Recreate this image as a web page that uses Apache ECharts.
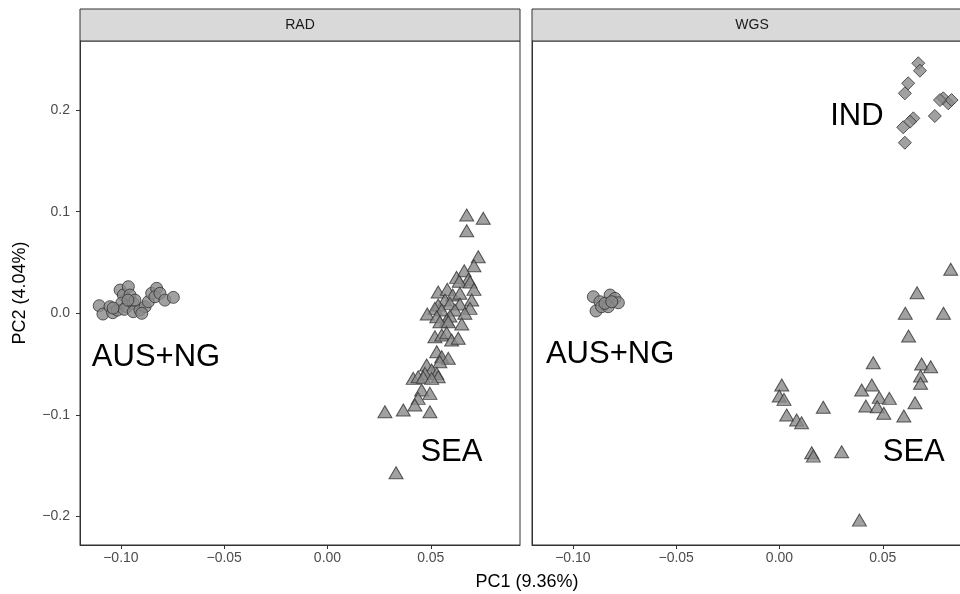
<!DOCTYPE html>
<html>
<head>
<meta charset="utf-8">
<script src="https://cdn.jsdelivr.net/npm/echarts@6/dist/echarts.min.js"></script>
<style>
  html, body { margin: 0; padding: 0; background: #fff; overflow: hidden; }
  /* the WGS panel runs past the right edge of the window, as in the source figure */
  #chart { width: 990px; height: 594px; }
</style>
</head>
<body>
<div id="chart"></div>
<script>
// panels
var panels = ['RAD', 'WGS']

// tick labels
var xTicks = [-0.10, -0.05, 0.00, 0.05]
var yTicks = [-0.2, -0.1, 0.0, 0.1, 0.2]

// RAD: AUS+NG (circles) and SEA (triangles)
var radAusX = [-0.1105, -0.1087, -0.1053, -0.1040, -0.1017, -0.1004, -0.0988, -0.0964, -0.0956, -0.0996, -0.0972, -0.0984, -0.0940, -0.0940, -0.0908, -0.0883, -0.0899, -0.0867, -0.0851, -0.0827, -0.0835, -0.0811, -0.0787, -0.0746, -0.1038, -0.0932, -0.0966]
var radAusY = [0.0075, -0.0007, 0.0065, 0.0006, 0.0032, 0.0229, 0.0180, 0.0262, 0.0180, 0.0101, 0.0065, 0.0039, 0.0098, 0.0016, 0.0032, 0.0065, 0.0000, 0.0114, 0.0197, 0.0246, 0.0163, 0.0197, 0.0130, 0.0157, 0.0052, 0.0130, 0.0130]
var radSeaX = [0.0674, 0.0754, 0.0674, 0.0730, 0.0709, 0.0662, 0.0625, 0.0682, 0.0638, 0.0690, 0.0709, 0.0536, 0.0580, 0.0606, 0.0641, 0.0698, 0.0569, 0.0536, 0.0593, 0.0641, 0.0690, 0.0520, 0.0483, 0.0553, 0.0617, 0.0665, 0.0593, 0.0529, 0.0577, 0.0650, 0.0544, 0.0585, 0.0520, 0.0553, 0.0577, 0.0601, 0.0633, 0.0529, 0.0553, 0.0585, 0.0544, 0.0480, 0.0504, 0.0472, 0.0529, 0.0415, 0.0439, 0.0464, 0.0536, 0.0504, 0.0456, 0.0496, 0.0439, 0.0423, 0.0278, 0.0367, 0.0496, 0.0332]
var radSeaY = [0.0967, 0.0935, 0.0813, 0.0557, 0.0468, 0.0419, 0.0354, 0.0335, 0.0315, 0.0308, 0.0236, 0.0210, 0.0236, 0.0180, 0.0197, 0.0131, 0.0131, 0.0082, 0.0098, 0.0091, 0.0049, 0.0049, -0.0007, 0.0032, 0.0032, 0.0000, -0.0027, -0.0034, -0.0066, -0.0105, -0.0083, -0.0083, -0.0230, -0.0214, -0.0191, -0.0263, -0.0246, -0.0378, -0.0427, -0.0443, -0.0477, -0.0509, -0.0558, -0.0591, -0.0591, -0.0640, -0.0624, -0.0630, -0.0624, -0.0640, -0.0755, -0.0788, -0.0837, -0.0903, -0.0969, -0.0952, -0.0969, -0.1569]

// WGS: AUS+NG (circles), IND (diamonds), SEA (triangles)
var wgsAusX = [-0.0901, -0.0869, -0.0820, -0.0796, -0.0780, -0.0888, -0.0861, -0.0829, -0.0845, -0.0812]
var wgsAusY = [0.0163, 0.0114, 0.0180, 0.0147, 0.0104, 0.0023, 0.0065, 0.0065, 0.0098, 0.0114]
var wgsIndX = [0.0672, 0.0680, 0.0623, 0.0607, 0.0793, 0.0817, 0.0833, 0.0777, 0.0752, 0.0648, 0.0632, 0.0599, 0.0607]
var wgsIndY = [0.2461, 0.2388, 0.2264, 0.2165, 0.2116, 0.2067, 0.2099, 0.2099, 0.1942, 0.1919, 0.1886, 0.1831, 0.1679]
var wgsSeaX = [0.0829, 0.0666, 0.0609, 0.0794, 0.0625, 0.0454, 0.0688, 0.0732, 0.0683, 0.0683, 0.0011, 0.0447, 0.0398, -0.0001, 0.0022, 0.0483, 0.0532, 0.0656, 0.0212, 0.0418, 0.0473, 0.0505, 0.0602, 0.0035, 0.0083, 0.0107, 0.0156, 0.0164, 0.0301, 0.0387]
var wgsSeaY = [0.0433, 0.0203, 0.0000, 0.0000, -0.0224, -0.0486, -0.0499, -0.0526, -0.0617, -0.0689, -0.0706, -0.0706, -0.0755, -0.0814, -0.0847, -0.0827, -0.0837, -0.0880, -0.0925, -0.0912, -0.0919, -0.0984, -0.1011, -0.1001, -0.1050, -0.1077, -0.1372, -0.1405, -0.1362, -0.2035]

// group labels (data coordinates)
var radLabels = ['AUS+NG', 'SEA']
var radLabelX = [-0.083, 0.060]
var radLabelY = [-0.043, -0.1365]
var wgsLabels = ['AUS+NG', 'IND', 'SEA']
var wgsLabelX = [-0.082, 0.0375, 0.065]
var wgsLabelY = [-0.040, 0.194, -0.1365]

var FONT = 'Liberation Sans'
var xMin = -0.1198, xMax = 0.0932
var yMin = -0.228, yMax = 0.268

function zip(xs, ys) {
  return xs.map(function (x, i) { return [x, ys[i]] })
}
function labelData(names, xs, ys) {
  return names.map(function (n, i) { return { name: n, value: [xs[i], ys[i]] } })
}
function fmt(d) {
  return function (v) {
    return (v < -1e-9 ? '\u2212' : '') + Math.abs(v).toFixed(d)
  }
}

var pointStyle = { color: '#8a8a8a', borderColor: '#333', borderWidth: 1 }

function pts(name, xi, data, symbol, size) {
  return {
    name: name, type: 'scatter', xAxisIndex: xi, yAxisIndex: xi,
    symbol: symbol, symbolSize: size, data: data,
    itemStyle: pointStyle, clip: true
  }
}
function labels(xi, data) {
  return {
    type: 'scatter', xAxisIndex: xi, yAxisIndex: xi, symbolSize: 0,
    data: data, silent: true, z: 5,
    itemStyle: { opacity: 1 },
    label: {
      show: true, position: 'inside', formatter: '{b}',
      fontFamily: FONT, fontSize: 31, color: '#000', textBorderWidth: 0
    }
  }
}

function xAxis(gi) {
  return {
    type: 'value', gridIndex: gi, min: xMin, max: xMax,
    splitLine: { show: false },
    axisLine: { show: true, onZero: false, lineStyle: { color: '#333', width: 1 } },
    axisTick: { show: true, length: 4, customValues: xTicks, lineStyle: { color: '#333' } },
    axisLabel: {
      customValues: xTicks, formatter: fmt(2), margin: 6,
      fontFamily: FONT, fontSize: 14, color: '#4d4d4d'
    }
  }
}
function yAxis(gi) {
  return {
    type: 'value', gridIndex: gi, min: yMin, max: yMax,
    splitLine: { show: false },
    axisLine: { show: true, onZero: false, lineStyle: { color: '#333', width: 1 } },
    axisTick: { show: gi === 0, length: 4, customValues: yTicks, lineStyle: { color: '#333' } },
    axisLabel: {
      show: gi === 0, customValues: yTicks, formatter: fmt(1), margin: 10,
      fontFamily: FONT, fontSize: 14, color: '#4d4d4d'
    }
  }
}

var chart = echarts.init(document.getElementById('chart'))
chart.setOption({
  animation: false,
  backgroundColor: '#fff',
  grid: [
    { left: 80, top: 41, width: 440, height: 504, show: true, borderColor: '#333', borderWidth: 1, backgroundColor: '#fff' },
    { left: 532, top: 41, width: 440, height: 504, show: true, borderColor: '#333', borderWidth: 1, backgroundColor: '#fff' }
  ],
  xAxis: [xAxis(0), xAxis(1)],
  yAxis: [yAxis(0), yAxis(1)],
  graphic: [
    { type: 'rect', shape: { x: 80, y: 9, width: 440, height: 32 }, style: { fill: '#d9d9d9', stroke: '#333', lineWidth: 1 } },
    { type: 'rect', shape: { x: 532, y: 9, width: 440, height: 32 }, style: { fill: '#d9d9d9', stroke: '#333', lineWidth: 1 } },
    { type: 'text', x: 300, y: 25, style: { text: panels[0], fontFamily: FONT, fontSize: 14, fill: '#1a1a1a', align: 'center', verticalAlign: 'middle' } },
    { type: 'text', x: 752, y: 25, style: { text: panels[1], fontFamily: FONT, fontSize: 14, fill: '#1a1a1a', align: 'center', verticalAlign: 'middle' } },
    { type: 'text', x: 527, y: 582, style: { text: 'PC1 (9.36%)', fontFamily: FONT, fontSize: 18, fill: '#000', align: 'center', verticalAlign: 'middle' } },
    { type: 'text', x: 20, y: 293, rotation: Math.PI / 2, style: { text: 'PC2 (4.04%)', fontFamily: FONT, fontSize: 18, fill: '#000', align: 'center', verticalAlign: 'middle' } }
  ],
  series: [
    pts('AUS+NG', 0, zip(radAusX, radAusY), 'circle', 12),
    pts('SEA', 0, zip(radSeaX, radSeaY), 'triangle', [14, 12]),
    pts('AUS+NG', 1, zip(wgsAusX, wgsAusY), 'circle', 12),
    pts('IND', 1, zip(wgsIndX, wgsIndY), 'diamond', 13),
    pts('SEA', 1, zip(wgsSeaX, wgsSeaY), 'triangle', [14, 12]),
    labels(0, labelData(radLabels, radLabelX, radLabelY)),
    labels(1, labelData(wgsLabels, wgsLabelX, wgsLabelY))
  ]
})
</script>
</body>
</html>
